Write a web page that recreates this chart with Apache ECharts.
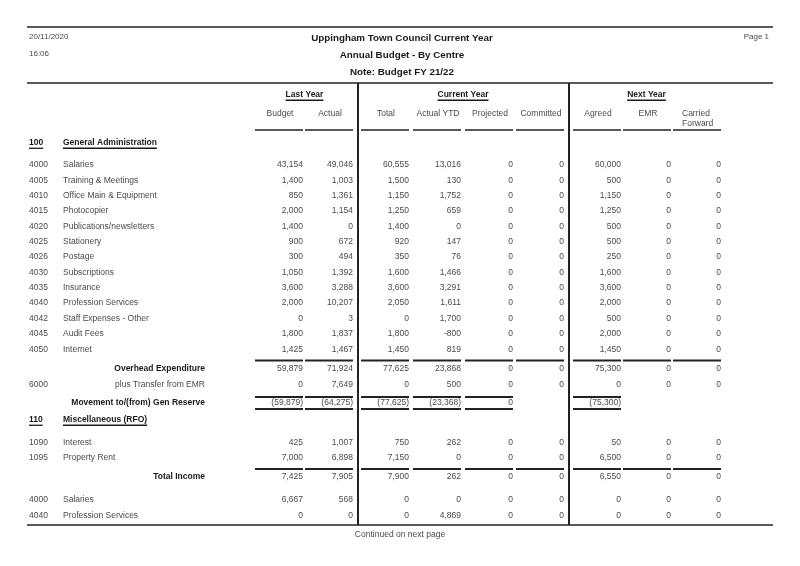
<!DOCTYPE html>
<html><head><meta charset="utf-8">
<script src="https://cdn.jsdelivr.net/npm/echarts@6/dist/echarts.min.js"></script>
<style>html,body{margin:0;padding:0;background:#fff}#c{width:800px;height:566px}</style>
</head><body><div id="c"></div>
<script>
// ---------- DATA ----------
const printDate = '20/11/2020';
const printTime = '16:06';
const pageLabel = 'Page 1';
const titleLines = ['Uppingham Town Council Current Year', 'Annual Budget - By Centre', 'Note: Budget FY 21/22'];
const groupHeaders = ['Last Year', 'Current Year', 'Next Year'];
const columnHeaders = ['Budget', 'Actual', 'Total', 'Actual YTD', 'Projected', 'Committed', 'Agreed', 'EMR', 'Carried\nForward'];

const centre100 = ['100', 'General Administration'];
const gaCodes = ['4000','4005','4010','4015','4020','4025','4026','4030','4035','4040','4042','4045','4050'];
const gaNames = ['Salaries','Training & Meetings','Office Main & Equipment','Photocopier','Publications/newsletters','Stationery','Postage','Subscriptions','Insurance','Profession Services','Staff Expenses - Other','Audit Fees','Internet'];
const gaLastBudget = [43154,1400,850,2000,1400,900,300,1050,3600,2000,0,1800,1425];
const gaLastActual = [49046,1003,1361,1154,0,672,494,1392,3288,10207,3,1837,1467];
const gaCurTotal = [60555,1500,1150,1250,1400,920,350,1600,3600,2050,0,1800,1450];
const gaCurActualYTD = [13016,130,1752,659,0,147,76,1466,3291,1611,1700,-800,819];
const gaCurProjected = [0,0,0,0,0,0,0,0,0,0,0,0,0];
const gaCurCommitted = [0,0,0,0,0,0,0,0,0,0,0,0,0];
const gaNextAgreed = [60000,500,1150,1250,500,500,250,1600,3600,2000,500,2000,1450];
const gaNextEMR = [0,0,0,0,0,0,0,0,0,0,0,0,0];
const gaNextCarried = [0,0,0,0,0,0,0,0,0,0,0,0,0];

const overheadExpenditure = [59879, 71924, 77625, 23868, 0, 0, 75300, 0, 0];
const transferFromEMR = ['6000', 'plus Transfer from EMR', 0, 7649, 0, 500, 0, 0, 0, 0, 0];
const movementGenReserve = [-59879, -64275, -77625, -23368, 0, null, -75300, null, null];

const centre110 = ['110', 'Miscellaneous (RFO)'];
const miscIncomeRows = [
  ['1090', 'Interest', 425, 1007, 750, 262, 0, 0, 50, 0, 0],
  ['1095', 'Property Rent', 7000, 6898, 7150, 0, 0, 0, 6500, 0, 0]
];
const totalIncome = [7425, 7905, 7900, 262, 0, 0, 6550, 0, 0];
const miscExpenseRows = [
  ['4000', 'Salaries', 6667, 568, 0, 0, 0, 0, 0, 0, 0],
  ['4040', 'Profession Services', 0, 0, 0, 4869, 0, 0, 0, 0, 0]
];
const footerText = 'Continued on next page';

// ---------- LAYOUT ----------
const FONT = "'Liberation Sans', Arial, Helvetica, sans-serif";
const BODY = 8.5;
const colRight = [303, 353, 409, 461, 513, 564, 621, 671, 721];
const xCode = 29, xName = 63, xLabelRight = 205;
const cells = [];
const segs = [];
function txt(x, y, t, align, opts) {
  opts = opts || {};
  cells.push({x, y, t, align, size: opts.size || BODY, bold: !!opts.bold, color: opts.color || (opts.bold ? '#1a1a1a' : '#4a4a4a'), ul: !!opts.ul});
}
function seg(x1, y1, x2, y2, w) { segs.push([x1, y1, x2, y2, w || 1]); }
function fmt(n, paren) {
  if (n === null || n === undefined) return '';
  const neg = n < 0;
  const s = String(Math.abs(n)).replace(/\B(?=(\d{3})+(?!\d))/g, ',');
  if (neg) return paren ? '(' + s + ')' : '-' + s;
  return s;
}
function numRow(y, vals, paren) {
  vals.forEach((v, i) => { if (v !== null) txt(colRight[i], y, fmt(v, paren), 'right'); });
}
function colLines(y, which, w) {
  which.forEach(i => seg(colRight[i] - 48, y, colRight[i], y, w));
}
const allCols = [0,1,2,3,4,5,6,7,8];

// page header
seg(27, 27, 773, 27, 1.5);
txt(29, 37, printDate, 'left', {size: 8});
txt(29, 54, printTime, 'left', {size: 8});
txt(769, 37, pageLabel, 'right', {size: 8});
titleLines.forEach((t, i) => txt(402, 38 + i * 17, t, 'center', {bold: true, size: 9.8}));
seg(27, 83, 773, 83, 1.5);
// vertical dividers
seg(358, 83, 358, 525, 2);
seg(569, 83, 569, 525, 2);
// group headers
const groupCenters = [304.5, 463, 646.5];
groupHeaders.forEach((g, i) => txt(groupCenters[i], 95, g, 'center', {bold: true, ul: true}));
columnHeaders.forEach((h, i) => {
  if (h.indexOf('\n') >= 0) {
    const parts = h.split('\n');
    txt(682, 114, parts[0], 'left');
    txt(682, 124, parts[1], 'left');
  } else {
    txt(colRight[i] - 23, 114, h, 'center');
  }
});
colLines(130, allCols, 1.5);

// centre 100
txt(xCode, 143, centre100[0], 'left', {bold: true, ul: true});
txt(xName, 143, centre100[1], 'left', {bold: true, ul: true});
const gaCols = [gaLastBudget, gaLastActual, gaCurTotal, gaCurActualYTD, gaCurProjected, gaCurCommitted, gaNextAgreed, gaNextEMR, gaNextCarried];
gaCodes.forEach((c, r) => {
  const y = 165 + r * 15.35;
  txt(xCode, y, c, 'left');
  txt(xName, y, gaNames[r], 'left');
  numRow(y, gaCols.map(col => col[r]));
});
colLines(360.5, allCols, 2);
txt(xLabelRight, 369, 'Overhead Expenditure', 'right', {bold: true});
numRow(369, overheadExpenditure);
txt(xCode, 385, transferFromEMR[0], 'left');
txt(xLabelRight, 385, transferFromEMR[1], 'right');
numRow(385, transferFromEMR.slice(2));
const movCols = allCols.filter(i => movementGenReserve[i] !== null);
colLines(397, movCols, 2);
txt(xLabelRight, 403, 'Movement to/(from) Gen Reserve', 'right', {bold: true});
numRow(403, movementGenReserve, true);
colLines(409, movCols, 2);

// centre 110
txt(xCode, 420, centre110[0], 'left', {bold: true, ul: true});
txt(xName, 420, centre110[1], 'left', {bold: true, ul: true});
miscIncomeRows.forEach((row, r) => {
  const y = 443 + r * 14.6;
  txt(xCode, y, row[0], 'left');
  txt(xName, y, row[1], 'left');
  numRow(y, row.slice(2));
});
colLines(469, allCols, 2);
txt(xLabelRight, 477, 'Total Income', 'right', {bold: true});
numRow(477, totalIncome);
miscExpenseRows.forEach((row, r) => {
  const y = 500 + r * 15.5;
  txt(xCode, y, row[0], 'left');
  txt(xName, y, row[1], 'left');
  numRow(y, row.slice(2));
});
seg(27, 525, 773, 525, 1.5);
txt(400, 535, footerText, 'center');

// ---------- CHART ----------
const chart = echarts.init(document.getElementById('c'), null, {renderer: 'canvas'});
const measureCtx = document.createElement('canvas').getContext('2d');
chart.setOption({
  animation: false,
  backgroundColor: '#fff',
  grid: {left: 0, right: 0, top: 0, bottom: 0},
  xAxis: {type: 'value', min: 0, max: 800, show: false},
  yAxis: {type: 'value', min: 0, max: 566, inverse: true, show: false},
  series: [
    {
      type: 'custom', clip: false, silent: true,
      data: segs.map(s => s.slice(0, 4)),
      renderItem: function (params, api) {
        const s = segs[params.dataIndex];
        const p1 = api.coord([api.value(0), api.value(1)]);
        const p2 = api.coord([api.value(2), api.value(3)]);
        return {type: 'line', shape: {x1: p1[0], y1: p1[1], x2: p2[0], y2: p2[1]}, style: {stroke: '#222', lineWidth: s[4]}};
      }
    },
    {
      type: 'custom', clip: false, silent: true,
      data: cells.map(c => [c.x, c.y]),
      renderItem: function (params, api) {
        const c = cells[params.dataIndex];
        const p = api.coord([api.value(0), api.value(1)]);
        const font = (c.bold ? 'bold ' : '') + c.size + 'px ' + FONT;
        const children = [{type: 'text', x: p[0], y: p[1], style: {text: c.t, align: c.align, verticalAlign: 'middle', font: font, fill: c.color}}];
        if (c.ul) {
          measureCtx.font = font;
          const tw = measureCtx.measureText(c.t).width;
          let x0 = p[0];
          if (c.align === 'center') x0 -= tw / 2; else if (c.align === 'right') x0 -= tw;
          const uy = p[1] + c.size * 0.62;
          children.push({type: 'line', shape: {x1: x0, y1: uy, x2: x0 + tw, y2: uy}, style: {stroke: c.color, lineWidth: 1.3}});
        }
        return {type: 'group', children: children};
      }
    }
  ]
});
</script>
</body></html>
